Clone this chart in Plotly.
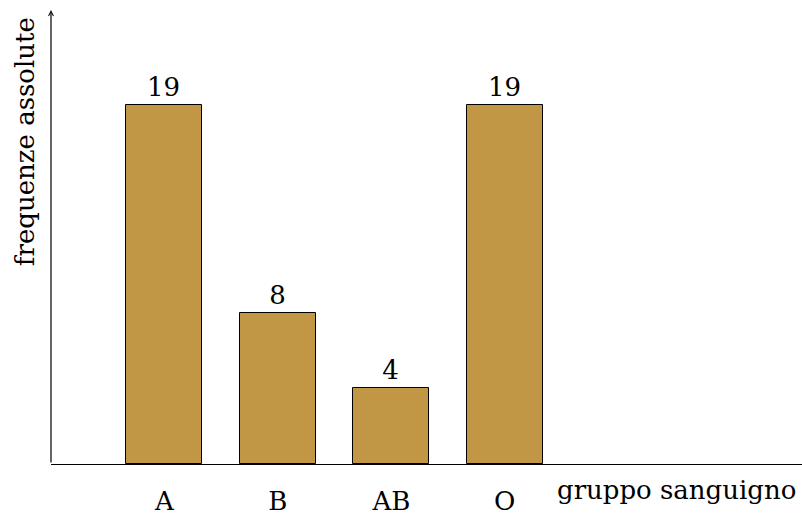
import plotly.graph_objects as go

categories = ["A", "B", "AB", "O"]
values = [19, 8, 4, 19]
x_title = "gruppo sanguigno"
y_title = "frequenze assolute"

FONT = "DejaVu Serif"
FS = 26
bar_color = "#C19746"

xpos = list(range(len(categories)))

fig = go.Figure()
fig.add_trace(go.Bar(
    x=xpos, y=values, width=0.67,
    marker=dict(color=bar_color, line=dict(color="black", width=1)),
    text=[str(v) for v in values], textposition="outside",
    textfont=dict(family=FONT, size=FS, color="black"),
    cliponaxis=False,
))

fig.update_layout(
    width=802, height=517,
    margin=dict(l=51, r=0, t=10, b=53),
    paper_bgcolor="white", plot_bgcolor="white",
    showlegend=False,
    font=dict(family=FONT, size=FS, color="black"),
    xaxis=dict(range=[-1.0, 5.62], tickmode="array", tickvals=xpos, ticktext=categories,
               showgrid=False, zeroline=False, showline=True, linecolor="black", linewidth=1.2,
               ticks="", ticklen=0, ticklabelstandoff=14, tickfont=dict(family=FONT, size=FS),
               automargin=False),
    yaxis=dict(range=[0, 24], showgrid=False, zeroline=False, showline=False,
               showticklabels=False, ticks="", automargin=False),
    bargap=0,
)

fig.add_annotation(x=0, y=1, xref="x domain", yref="y domain", ax=0, ay=0,
                   axref="x domain", ayref="y domain", showarrow=True,
                   arrowhead=5, arrowsize=0.8, arrowwidth=1.2, arrowcolor="black", text="")
fig.add_annotation(x=1, y=-0.057, xref="paper", yref="paper", xanchor="right", yanchor="middle",
                   xshift=-4, text=x_title, showarrow=False, font=dict(family=FONT, size=FS))
fig.add_annotation(x=-0.0346, y=0.709, xref="paper", yref="paper", xanchor="center", yanchor="middle",
                   text=y_title, textangle=-90, showarrow=False, font=dict(family=FONT, size=FS))

fig.write_html("out.html", config={"displayModeBar": False},
               post_script="document.body.style.margin='0';document.body.style.padding='0';")
